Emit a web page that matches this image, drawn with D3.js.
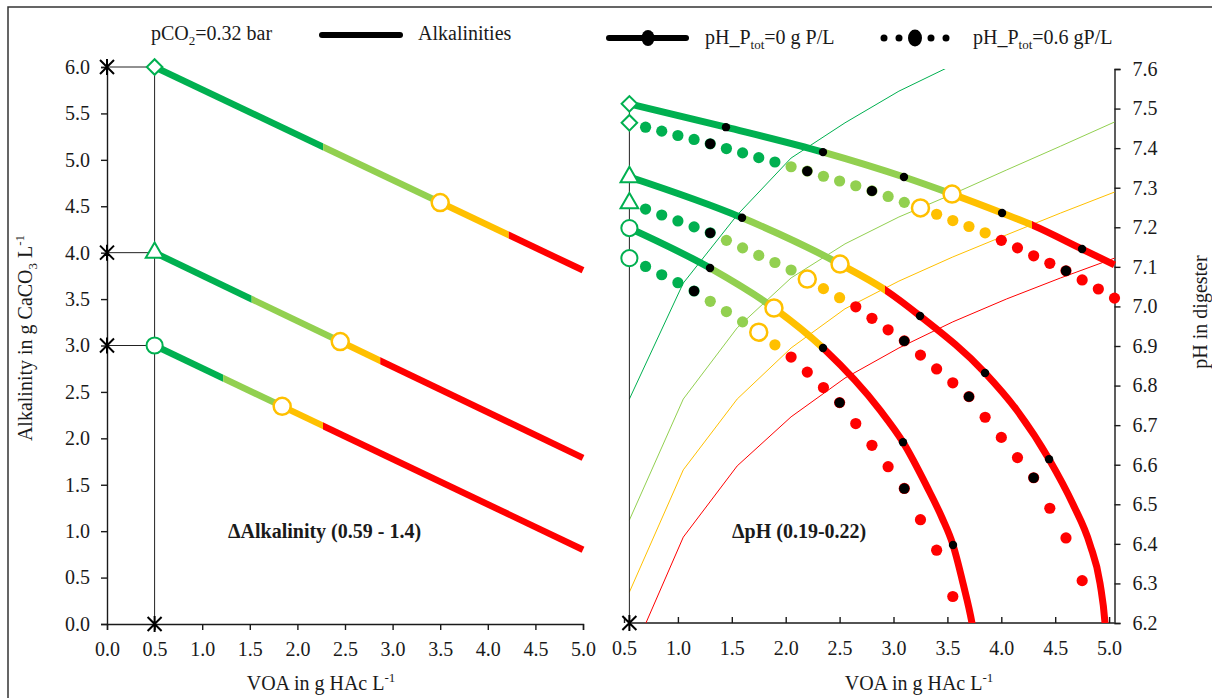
<!DOCTYPE html>
<head>
<meta charset="utf-8">
<title>Alkalinity and pH vs VOA</title>
<style>
    body { margin: 0; background: #fff; }
    svg { font-family: "Liberation Serif", "Times New Roman", Times, "DejaVu Serif", serif; fill: #1a1a1a; }
    .tick text { font-size: 20px; fill: #1a1a1a; font-family: "Liberation Serif", "Times New Roman", Times, serif; }
    .axis path, .axis line { stroke: #1a1a1a; stroke-width: 1.4; }
</style>
</head>
<body>
<svg width="1212" height="698"></svg>
<script src="https://d3js.org/d3.v7.min.js"></script>
<script>
    // zone colours: dark green, light green, yellow, red
    var colors = ["#00B050", "#92D050", "#FFC000", "#FF0000"];

    // ---- left panel: alkalinity vs VOA ----
    var alkStart = [6.0, 4.0, 3.0];
    var alkLines = [
        [[0.5, 6.0], [5.0, 3.81]],
        [[0.5, 4.0], [5.0, 1.79]],
        [[0.5, 3.0], [5.0, 0.80]]
    ];
    // VOA where the colour changes (dark->light green, light green->yellow, yellow->red)
    var alkBreaks = [[2.27, 3.5, 4.22], [1.52, 2.45, 2.87], [1.22, 1.84, 2.27]];
    var markerTypes = ["diamond", "triangle", "circle"];

    // ---- right panel: pH vs VOA, Ptot = 0 (smooth lines) ----
    var phSolid = [
        [[0.55,7.512],[1.446,7.453],[2.346,7.390],[3.097,7.327],[3.543,7.284],[4.007,7.236],[4.285,7.206],[4.749,7.145],[5.05,7.105]],
        [[0.55,7.327],[1.595,7.224],[2.504,7.107],[2.921,7.042],[3.246,6.976],[3.849,6.832],[4.146,6.737],[4.443,6.614],[4.665,6.500],[4.823,6.398],[4.916,6.300],[4.962,6.2],[4.985,6.1]],
        [[0.55,7.198],[1.298,7.097],[1.891,6.996],[2.346,6.895],[2.875,6.738],[3.088,6.657],[3.311,6.544],[3.45,6.466],[3.552,6.397],[3.645,6.30],[3.728,6.2],[3.77,6.13]]
    ];
    var phSolidBreaks = [[2.35, 3.543, 4.285], [1.60, 2.504, 2.921], [1.30, 1.891, 2.346]];
    var phSolidDots = [[1.446, 2.346, 3.097, 4.007, 4.749], [1.595, 3.246, 3.849, 4.443], [1.298, 2.346, 3.088, 3.552]];

    // ---- right panel: pH vs VOA, Ptot = 0.6 (one dot per VOA step) ----
    var dotVoa = [0.55, 0.70, 0.85, 1.00, 1.15, 1.30, 1.45, 1.60, 1.75, 1.90, 2.05, 2.20, 2.35, 2.50, 2.65, 2.80,
                  2.95, 3.10, 3.25, 3.40, 3.55, 3.70, 3.85, 4.00, 4.15, 4.30, 4.45, 4.60, 4.75, 4.90, 5.05];
    var phDotA = [7.464, 7.453, 7.443, 7.432, 7.422, 7.411, 7.399, 7.388, 7.376, 7.365, 7.353, 7.342, 7.329, 7.317, 7.305, 7.292,
                  7.278, 7.263, 7.249, 7.233, 7.217, 7.202, 7.186, 7.167, 7.148, 7.128, 7.109, 7.090, 7.067, 7.044, 7.021];
    var phDotB = [7.261, 7.246, 7.231, 7.216, 7.201, 7.186, 7.167, 7.148, 7.129, 7.111, 7.092, 7.069, 7.045, 7.022, 6.999, 6.970,
                  6.941, 6.913, 6.877, 6.842, 6.807, 6.772, 6.720, 6.669, 6.618, 6.567, 6.490, 6.415, 6.307];
    var phDotC = [7.122, 7.101, 7.080, 7.060, 7.039, 7.013, 6.987, 6.961, 6.935, 6.903, 6.872, 6.834, 6.795, 6.757, 6.704, 6.649,
                  6.595, 6.540, 6.461, 6.384, 6.267];
    var phDotted = [phDotA, phDotB, phDotC];
    var phDottedBreaks = [[1.97, 3.25, 3.92], [1.37, 2.20, 2.57], [1.22, 1.75, 1.97]];
    var phDottedDots = [[1.30, 2.20, 2.80, 4.60], [1.30, 3.10, 3.70, 4.30], [1.15, 2.50, 3.10]];

    // thin zone boundary lines
    var isoVoa = [0.55, 1.05, 1.55, 2.05, 2.55, 3.05, 3.55, 4.05, 4.55, 5.05];
    var isoDarkGreen = [6.766, 7.059, 7.231, 7.375, 7.464, 7.544, 7.610];
    var isoLightGreen = [6.460, 6.766, 6.946, 7.072, 7.158, 7.226, 7.284, 7.345, 7.405, 7.466];
    var isoYellow = [6.278, 6.587, 6.766, 6.895, 6.994, 7.064, 7.125, 7.181, 7.236, 7.289];
    var isoRed = [6.104, 6.417, 6.597, 6.721, 6.819, 6.895, 6.961, 7.019, 7.072, 7.122];
    var isoLines = [isoDarkGreen, isoLightGreen, isoYellow, isoRed];

    var xTicksL = [0, 0.5, 1, 1.5, 2, 2.5, 3, 3.5, 4, 4.5, 5];
    var yTicksL = [0, 0.5, 1, 1.5, 2, 2.5, 3, 3.5, 4, 4.5, 5, 5.5, 6];
    var xTicksR = [0.5, 1, 1.5, 2, 2.5, 3, 3.5, 4, 4.5, 5];
    var yTicksR = [6.2, 6.3, 6.4, 6.5, 6.6, 6.7, 6.8, 6.9, 7.0, 7.1, 7.2, 7.3, 7.4, 7.5, 7.6];

    var svg = d3.select("svg"),
        defs = svg.append("defs"),
        fmt = d3.format(".1f");

    var xL = d3.scaleLinear().domain([0, 5]).range([107, 583]),
        yL = d3.scaleLinear().domain([0, 6]).range([624, 67]),
        xR = d3.scaleLinear().domain([0.5, 5.05]).range([624, 1114.5]),
        yR = d3.scaleLinear().domain([6.2, 7.6]).range([623, 69]);

    // outer frame
    svg.append("rect")
        .attr("x", 8).attr("y", 7).attr("width", 1230).attr("height", 720)
        .attr("fill", "none").attr("stroke", "#333").attr("stroke-width", 1.5);

    function valueAt(pts, v) {
        for (var i = 1; i < pts.length; i++) {
            if (v <= pts[i][0]) {
                var t = (v - pts[i-1][0]) / (pts[i][0] - pts[i-1][0]);
                return pts[i-1][1] + t * (pts[i][1] - pts[i-1][1]);
            }
        }
        return pts[pts.length - 1][1];
    }

    function zoneOf(v, breaks) {
        var k = 0;
        breaks.forEach(function(b) { if (v >= b - 1e-9) k++; });
        return k;
    }

    function symbolPath(type) {
        if (type == "diamond") return d3.symbol().type(d3.symbolSquare).size(121)();
        if (type == "triangle") return d3.symbol().type(d3.symbolTriangle).size(135)();
        return d3.symbol().type(d3.symbolCircle).size(205)();
    }

    function openMarker(g, type, px, py) {
        g.append("path")
            .attr("d", symbolPath(type))
            .attr("transform", "translate(" + px + "," + py + ")" + (type == "diamond" ? " rotate(45)" : ""))
            .attr("fill", "#fff").attr("stroke", colors[0]).attr("stroke-width", 2);
    }

    function yellowCircle(g, px, py) {
        g.append("circle")
            .attr("cx", px).attr("cy", py).attr("r", 8.5)
            .attr("fill", "#fff").attr("stroke", colors[2]).attr("stroke-width", 2.5);
    }

    function asterisk(g, px, py) {
        g.append("path")
            .attr("d", "M-7,-7L7,7M-7,7L7,-7M0,-8L0,8")
            .attr("transform", "translate(" + px + "," + py + ")")
            .attr("stroke", "#000").attr("stroke-width", 2).attr("fill", "none");
    }

    // draw one curve split into the four colour zones, each zone via its own clip
    function drawZoned(g, pts, breaks, x, y, id, width) {
        var line = d3.line()
            .x(function(d) { return x(d[0]); })
            .y(function(d) { return y(d[1]); })
            .curve(d3.curveMonotoneX);
        var edges = [-5].concat(breaks).concat([10]);
        colors.forEach(function(c, k) {
            var cid = id + "-" + k;
            defs.append("clipPath").attr("id", cid).append("rect")
                .attr("x", x(edges[k])).attr("width", x(edges[k+1]) - x(edges[k]))
                .attr("y", -50).attr("height", 800);
            g.append("path")
                .attr("d", line(pts))
                .attr("clip-path", "url(#" + cid + ")")
                .attr("fill", "none")
                .attr("stroke", c)
                .attr("stroke-width", width);
        });
    }

    // ================= LEFT PANEL =================
    var gL = svg.append("g");

    gL.append("g").attr("class", "axis")
        .attr("transform", "translate(0,624)")
        .call(d3.axisBottom(xL).tickValues(xTicksL).tickFormat(fmt).tickSizeOuter(0).tickSize(6).tickPadding(12));
    gL.append("g").attr("class", "axis")
        .attr("transform", "translate(107,0)")
        .call(d3.axisLeft(yL).tickValues(yTicksL).tickFormat(fmt).tickSizeOuter(0).tickSize(6).tickPadding(11));

    // thin guide lines from the axes to the starting points
    gL.append("line")
        .attr("x1", xL(0.5)).attr("x2", xL(0.5)).attr("y1", yL(0)).attr("y2", yL(d3.max(alkStart)))
        .attr("stroke", "#222").attr("stroke-width", 1);
    alkStart.forEach(function(a) {
        gL.append("line")
            .attr("x1", xL(0)).attr("x2", xL(0.5)).attr("y1", yL(a)).attr("y2", yL(a))
            .attr("stroke", "#222").attr("stroke-width", 1);
        asterisk(gL, xL(0), yL(a));
    });
    asterisk(gL, xL(0.5), yL(0));

    alkLines.forEach(function(pts, i) {
        drawZoned(gL, pts, alkBreaks[i], xL, yL, "alk" + i, 6.5);
    });
    alkLines.forEach(function(pts, i) {
        var v = alkBreaks[i][1];
        yellowCircle(gL, xL(v), yL(valueAt(pts, v)));
        openMarker(gL, markerTypes[i], xL(pts[0][0]), yL(pts[0][1]));
    });

    gL.append("text")
        .attr("x", 228).attr("y", 538)
        .style("font-size", "20px").style("font-weight", "bold")
        .text("\u0394Alkalinity (0.59 - 1.4)");

    // ================= RIGHT PANEL =================
    defs.append("clipPath").attr("id", "plotR").append("rect")
        .attr("x", 600).attr("y", yR(7.6)).attr("width", 540).attr("height", yR(6.2) - yR(7.6));

    var gR = svg.append("g");

    var axB = gR.append("g").attr("class", "axis")
        .attr("transform", "translate(0,623)")
        .call(d3.axisBottom(xR).tickValues(xTicksR).tickFormat(fmt).tickSizeOuter(0).tickSizeInner(-6).tickPadding(18));
    axB.select(".domain").attr("d", "M" + xR(0.55) + ",0H" + xR(5.05));
    gR.append("g").attr("class", "axis")
        .attr("transform", "translate(" + xR(5.05) + ",0)")
        .call(d3.axisRight(yR).tickValues(yTicksR).tickFormat(fmt).tickSizeOuter(0).tickSize(6).tickPadding(12));

    var plotR = gR.append("g").attr("clip-path", "url(#plotR)");

    var isoLine = d3.line()
        .x(function(d, i) { return xR(isoVoa[i]); })
        .y(function(d) { return yR(d); });
    isoLines.forEach(function(vals, i) {
        plotR.append("path")
            .attr("d", isoLine(vals))
            .attr("fill", "none").attr("stroke", colors[i]).attr("stroke-width", 1);
    });

    plotR.append("line")
        .attr("x1", xR(0.55)).attr("x2", xR(0.55)).attr("y1", yR(6.2)).attr("y2", yR(phSolid[0][0][1]))
        .attr("stroke", "#222").attr("stroke-width", 1);

    // Ptot = 0.6: one round dot per VOA step, coloured by zone
    phDotted.forEach(function(vals, i) {
        var pts = vals.map(function(v, j) { return [dotVoa[j], v]; });
        gR.append("g").selectAll("circle")
            .data(pts.slice(1))
            .enter().append("circle")
            .attr("cx", function(d) { return xR(d[0]); })
            .attr("cy", function(d) { return yR(d[1]); })
            .attr("r", 5.6)
            .attr("fill", function(d) { return colors[zoneOf(d[0], phDottedBreaks[i])]; });
        gR.append("g").selectAll("circle")
            .data(pts.filter(function(d) {
                return phDottedDots[i].some(function(b) { return Math.abs(b - d[0]) < 1e-6; });
            }))
            .enter().append("circle")
            .attr("cx", function(d) { return xR(d[0]); })
            .attr("cy", function(d) { return yR(d[1]); })
            .attr("r", 5.2)
            .attr("fill", "#000");
    });

    // Ptot = 0: thick smooth lines
    phSolid.forEach(function(pts, i) {
        drawZoned(plotR, pts, phSolidBreaks[i], xR, yR, "phs" + i, 7);
    });
    phSolid.forEach(function(pts, i) {
        phSolidDots[i].forEach(function(v) {
            plotR.append("circle")
                .attr("cx", xR(v)).attr("cy", yR(valueAt(pts, v))).attr("r", 4.2)
                .attr("fill", "#000");
        });
    });

    // open markers: start of each curve and the light green -> yellow switch
    phSolid.forEach(function(pts, i) {
        var v = phSolidBreaks[i][1];
        yellowCircle(gR, xR(v), yR(valueAt(pts, v)));
        openMarker(gR, markerTypes[i], xR(pts[0][0]), yR(pts[0][1]));
    });
    phDotted.forEach(function(vals, i) {
        var j = dotVoa.findIndex(function(v) { return Math.abs(v - phDottedBreaks[i][1]) < 1e-6; });
        yellowCircle(gR, xR(dotVoa[j]), yR(vals[j]));
        openMarker(gR, markerTypes[i], xR(dotVoa[0]), yR(vals[0]));
    });
    asterisk(gR, xR(0.55), yR(6.2));

    gR.append("text")
        .attr("x", 732).attr("y", 538)
        .style("font-size", "20px").style("font-weight", "bold")
        .text("\u0394pH (0.19-0.22)");

    // ================= AXIS TITLES =================
    var tL = svg.append("text")
        .attr("transform", "translate(32,338) rotate(-90)")
        .attr("text-anchor", "middle").style("font-size", "20px");
    tL.append("tspan").text("Alkalinity in g CaCO");
    tL.append("tspan").attr("dy", 5).style("font-size", "13px").text("3");
    tL.append("tspan").attr("dy", -5).text(" L");
    tL.append("tspan").attr("dy", -8).style("font-size", "13px").text("-1");

    [321, 919].forEach(function(cx) {
        var t = svg.append("text")
            .attr("x", cx).attr("y", 690)
            .attr("text-anchor", "middle").style("font-size", "20px");
        t.append("tspan").text("VOA in g HAc L");
        t.append("tspan").attr("dy", -8).style("font-size", "13px").text("-1");
    });

    svg.append("text")
        .attr("transform", "translate(1207,312) rotate(-90)")
        .attr("text-anchor", "middle").style("font-size", "20px")
        .text("pH in digester");

    // ================= LEGEND =================
    var lg = svg.append("g").style("font-size", "20px");
    var t1 = lg.append("text").attr("x", 151).attr("y", 40);
    t1.append("tspan").text("pCO");
    t1.append("tspan").attr("dy", 5).style("font-size", "13px").text("2");
    t1.append("tspan").attr("dy", -5).text("=0.32 bar");

    lg.append("line")
        .attr("x1", 322).attr("x2", 400).attr("y1", 35).attr("y2", 35)
        .attr("stroke", "#000").attr("stroke-width", 6).attr("stroke-linecap", "round");
    lg.append("text").attr("x", 418).attr("y", 40).text("Alkalinities");

    lg.append("line")
        .attr("x1", 609).attr("x2", 686).attr("y1", 38).attr("y2", 38)
        .attr("stroke", "#000").attr("stroke-width", 6).attr("stroke-linecap", "round");
    lg.append("ellipse").attr("cx", 648).attr("cy", 38).attr("rx", 6.5).attr("ry", 8).attr("fill", "#000");
    var t2 = lg.append("text").attr("x", 705).attr("y", 44);
    t2.append("tspan").text("pH_P");
    t2.append("tspan").attr("dy", 5).style("font-size", "13px").text("tot");
    t2.append("tspan").attr("dy", -5).text("=0 g P/L");

    [884, 899, 931, 946].forEach(function(px) {
        lg.append("circle").attr("cx", px).attr("cy", 38).attr("r", 3.5).attr("fill", "#000");
    });
    lg.append("ellipse").attr("cx", 915).attr("cy", 38).attr("rx", 7).attr("ry", 8.5).attr("fill", "#000");
    var t3 = lg.append("text").attr("x", 973).attr("y", 44);
    t3.append("tspan").text("pH_P");
    t3.append("tspan").attr("dy", 5).style("font-size", "13px").text("tot");
    t3.append("tspan").attr("dy", -5).text("=0.6 gP/L");
</script>
</body>
